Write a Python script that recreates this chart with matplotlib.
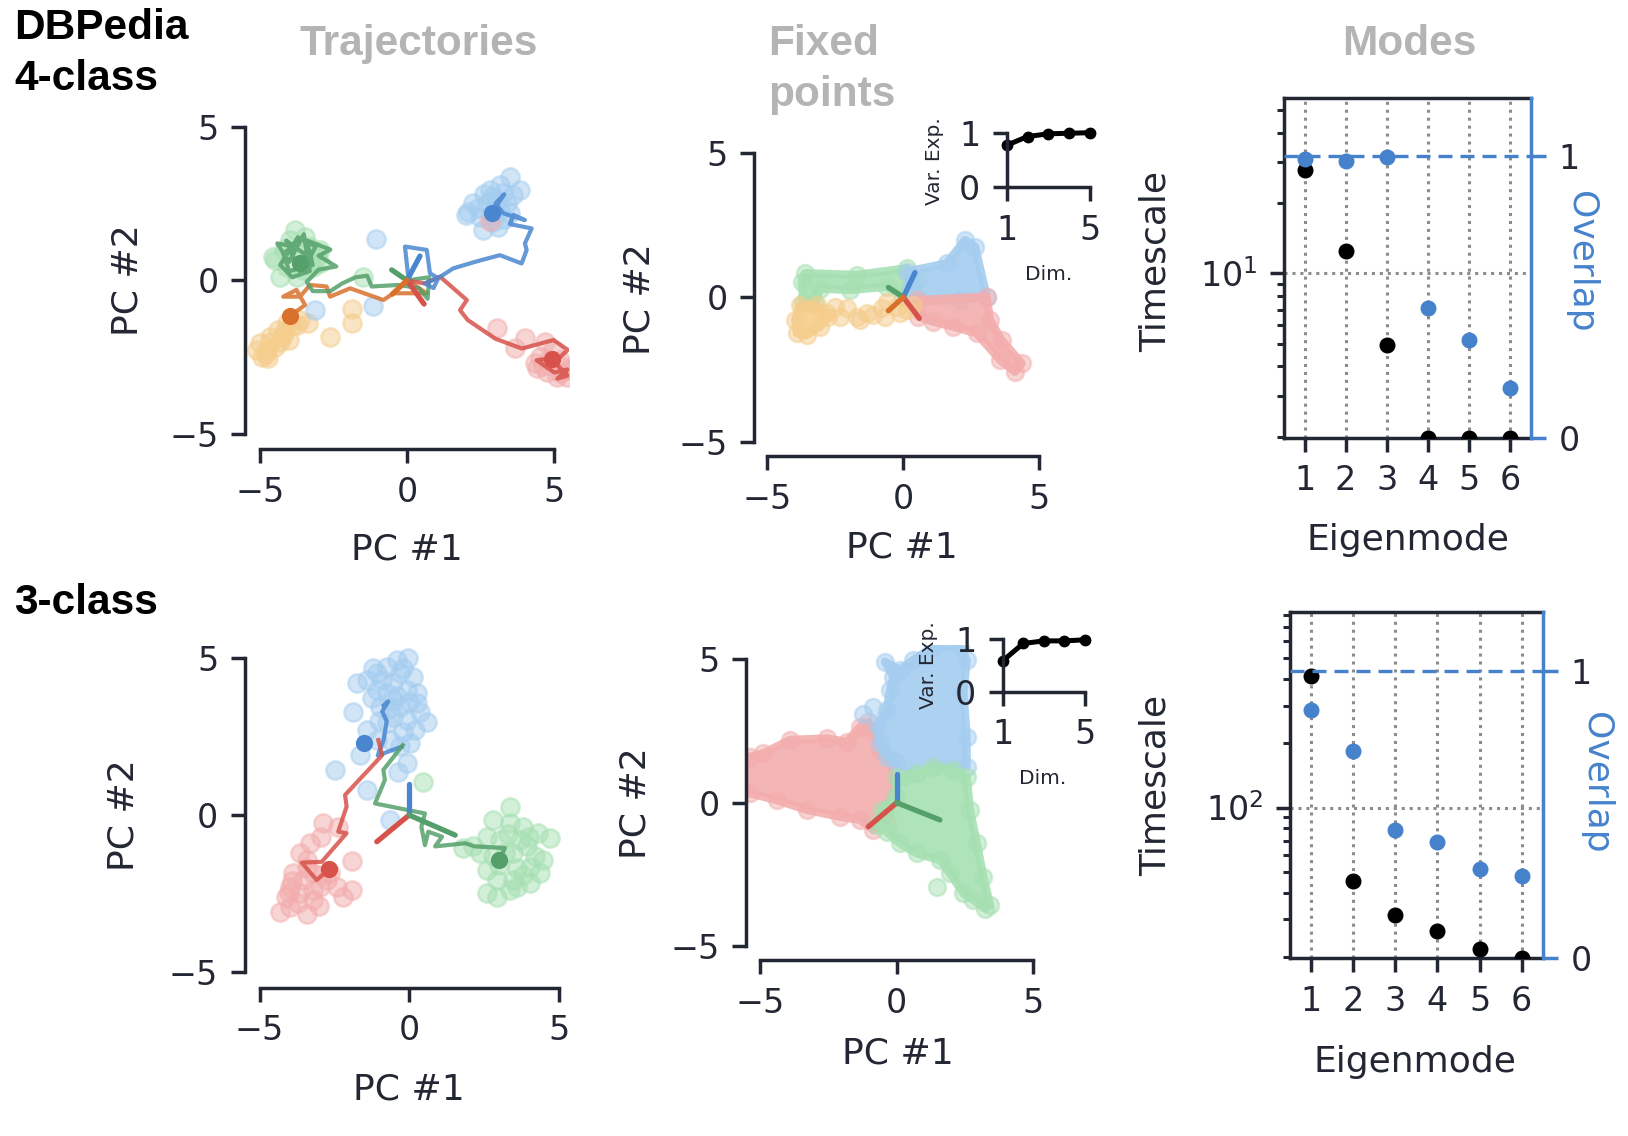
import numpy as np
import matplotlib.pyplot as plt
from matplotlib.patches import Polygon
from matplotlib.ticker import NullFormatter

# ---------------- data ----------------
# readout directions (tips, drawn from the origin)
read4 = {'blue': (0.44, 0.79), 'green': (-0.52, 0.34), 'red': (0.58, -0.77), 'orange': (-0.50, -0.45)}
read4_fp = {'blue': (0.43, 0.85), 'green': (-0.55, 0.34), 'red': (0.59, -0.73), 'orange': (-0.55, -0.47)}
read3 = {'blue': (0.0, 1.0), 'red': (-1.08, -0.85), 'green': (1.54, -0.64)}
read3_fp = {'blue': (0.0, 1.0), 'red': (-1.04, -0.84), 'green': (1.58, -0.60)}

# 4-class trajectories
traj4_blue = [(0.05, 0.05), (-0.07, 1.10), (0.67, 0.99), (0.78, 0.23), (1.06, 0.07), (0.9, -0.25),
              (0.6, -0.1), (1.1, 0.1), (1.57, 0.39), (2.3, 0.6), (3.15, 0.82), (3.89, 0.55),
              (4.06, 0.99), (4.0, 1.2), (4.23, 1.69), (3.49, 1.83), (3.61, 2.13), (4.0, 1.96),
              (3.27, 2.18), (3.0, 2.5), (3.3, 2.8), (2.88, 2.2)]
traj4_green = [(0.0, 0.0), (0.75, 0.1), (0.7, -0.6), (0.4, -0.25), (-0.3, -0.15), (-1.2, -0.2),
               (-1.35, 0.15), (-1.75, 0.1), (-2.2, -0.1), (-2.6, -0.35), (-3.2, -0.35), (-3.4, -0.05),
               (-3.0, 0.35), (-2.4, 0.45), (-3.0, 0.8), (-2.6, 1.0), (-3.4, 1.3), (-3.2, 0.5),
               (-4.0, 0.3), (-4.2, 0.9), (-3.8, 1.1), (-4.4, 1.2), (-4.0, 0.6), (-3.5, 1.5),
               (-3.3, 0.3), (-3.9, 0.1), (-4.3, 0.5), (-3.7, 1.4), (-3.1, 1.1), (-3.6, 0.2),
               (-4.1, 1.3), (-3.4, 0.8), (-3.63, 0.58)]
traj4_orange = [(0.0, 0.0), (0.67, -0.42), (-0.46, -0.42), (-0.8, -0.64), (-1.93, -0.26), (-2.61, -0.53),
                (-2.73, -0.2), (-3.29, -0.15), (-3.63, -0.53), (-4.2, -0.53), (-3.75, -0.31),
                (-3.46, -0.8), (-3.97, -1.16)]
traj4_red = [(0.0, 0.0), (0.6, -0.1), (1.12, 0.12), (2.03, -0.64), (1.8, -0.97), (2.06, -1.29),
             (3.0, -1.9), (3.9, -2.22), (4.97, -1.94), (5.45, -2.26), (5.2, -2.5), (4.4, -2.6),
             (5.0, -3.0), (5.45, -2.9), (5.1, -3.2), (5.45, -3.1), (4.91, -2.57)]
fp4 = {'blue': (2.88, 2.2), 'green': (-3.63, 0.58), 'orange': (-3.97, -1.16), 'red': (4.91, -2.57)}

cloud4_blue = [(3.49, 3.37), (3.15, 3.1), (3.83, 2.94), (2.81, 2.94), (2.25, 2.51), (2.48, 2.07),
               (2.7, 2.51), (3.04, 2.62), (3.38, 2.51), (3.27, 2.83), (2.59, 1.64), (3.1, 1.75),
               (2.93, 1.91), (3.49, 2.18), (3.61, 2.78), (2.42, 2.34), (2.08, 2.23), (2.81, 2.12),
               (3.15, 2.29), (3.0, 2.4), (2.6, 2.8), (3.3, 2.0), (2.9, 2.7),
               (2.0, 2.13), (-1.05, 1.34), (-3.12, -0.96), (-1.14, -0.84)]
cloud4_green = [(-3.8, 1.64), (-3.46, 1.42), (-4.53, 0.77), (-4.19, 0.99), (-3.74, 0.99), (-3.29, 1.1),
                (-3.06, 0.77), (-2.95, 0.99), (-4.08, 0.45), (-3.52, 0.34), (-3.18, 0.45),
                (-4.31, 0.12), (-3.74, 0.12), (-2.95, 0.55), (-4.47, 0.66), (-3.97, 1.31),
                (-3.6, 0.7), (-3.3, 0.6), (-1.48, 0.12)]
cloud4_orange = [(-5.1, -2.27), (-4.93, -2.49), (-4.7, -2.54), (-4.64, -1.83), (-4.36, -1.62),
                 (-4.08, -1.4), (-3.74, -1.45), (-4.31, -2.0), (-4.47, -2.16), (-4.02, -1.94),
                 (-3.63, -1.29), (-3.35, -1.4), (-4.76, -2.27), (-4.98, -2.05), (-4.19, -1.67),
                 (-4.6, -2.0), (-4.2, -1.8), (-4.8, -2.4), (-3.9, -1.5),
                 (-2.61, -1.83), (-1.88, -1.4), (-1.88, -0.94)]
cloud4_red = [(3.04, -1.56), (3.66, -2.21), (4.0, -1.89), (4.68, -2.0), (4.34, -2.7), (4.51, -2.48),
              (4.96, -2.27), (5.3, -2.81), (5.42, -3.14), (5.08, -3.14), (4.74, -2.97), (5.19, -2.6),
              (4.4, -2.86), (5.47, -2.92), (4.8, -2.6), (5.2, -3.0), (4.6, -2.8), (2.8, 1.93)]

# 3-class trajectories
traj3_blue = [(-0.25, 2.18), (-1.05, 1.9), (-0.85, 2.4), (-0.75, 3.0), (-0.9, 3.3), (-0.7, 3.62),
              (-0.85, 3.5)]
traj3_red = [(-1.03, 2.39), (-0.9, 1.91), (-2.14, 0.64), (-2.09, 0.27), (-2.37, -0.53), (-2.09, -0.58),
             (-2.92, -1.49), (-3.59, -1.52), (-3.09, -2.07), (-2.68, -1.73)]
traj3_green = [(-0.21, 2.23), (-0.86, 1.44), (-0.81, 1.12), (-1.14, 0.37), (0.53, 0.05), (0.41, -0.37),
               (0.53, -0.96), (0.64, -0.53), (1.1, -0.69), (0.87, -1.0), (1.87, -0.9), (2.2, -1.0),
               (3.2, -1.05), (3.02, -1.43)]
fp3 = {'blue': (-1.51, 2.29), 'red': (-2.68, -1.73), 'green': (3.02, -1.43)}

cloud3_blue = [(-0.03, 5.0), (-0.42, 4.95), (-0.75, 4.73), (-1.08, 4.52), (-1.42, 4.31), (-1.75, 4.2),
               (-0.31, 4.52), (0.14, 4.41), (-0.53, 4.2), (-1.08, 3.99), (-0.75, 3.88), (-0.08, 3.99),
               (0.25, 3.56), (-0.31, 3.46), (-0.97, 3.46), (-1.25, 3.72), (-0.53, 3.14), (-0.08, 3.03),
               (0.36, 3.3), (0.59, 2.98), (-1.86, 3.3), (-1.42, 2.72), (-0.75, 2.93), (-0.2, 2.66),
               (0.03, 2.29), (-0.64, 2.39), (-0.2, 4.7), (-0.9, 4.3), (-0.4, 3.8), (-0.6, 3.4),
               (0.0, 3.6), (-1.0, 3.0), (0.2, 2.7), (-0.3, 2.2), (-1.2, 4.7),
               (-1.64, 1.92), (-2.48, 1.44), (-1.42, 0.8), (-0.64, -0.16),
               (-0.08, 1.65), (-0.36, 1.38), (-1.08, 2.39), (0.25, 3.88), (-0.53, 3.67)]
cloud3_red = [(-4.32, -3.08), (-3.99, -2.92), (-3.43, -3.14), (-4.1, -2.6), (-3.65, -2.5), (-3.21, -2.71),
              (-2.98, -2.29), (-3.54, -2.07), (-3.87, -1.86), (-3.21, -1.86), (-2.76, -2.07),
              (-2.42, -2.29), (-1.92, -2.39), (-2.2, -2.6), (-3.65, -1.22), (-3.32, -0.9), (-2.87, -0.26),
              (-2.37, -0.37), (-1.92, -1.46), (-2.93, -0.69), (-3.99, -2.29), (-3.43, -1.44), (-2.65, -1.86),
              (-3.7, -2.8), (-3.2, -2.4), (-3.9, -2.1), (-3.4, -1.7), (-2.9, -1.9), (-4.0, -2.5), (-3.0, -2.9)]
cloud3_green = [(2.6, -2.5), (2.93, -2.6), (3.37, -2.39), (2.6, -1.75), (2.93, -2.07), (3.48, -2.07),
                (4.04, -2.18), (4.37, -1.86), (4.48, -1.43), (4.71, -0.74), (4.32, -0.58), (3.82, -0.37),
                (3.37, -0.26), (2.82, -0.16), (3.37, 0.27), (3.93, -1.0), (3.48, -1.22), (3.04, -0.8),
                (2.37, -1.22), (2.15, -1.0), (4.04, -1.65), (3.0, -1.6), (3.6, -1.7), (3.2, -1.2),
                (4.2, -1.3), (3.8, -1.9), (3.3, -0.6), (4.0, -0.7), (2.8, -1.3), (3.6, -2.3),
                (0.47, 1.06), (1.81, -1.06), (2.6, -0.69), (3.71, -0.8)]

# 4-class fixed point regions (outlines of the dense point sets)
fps4_green = [(-3.62, 0.83), (-1.72, 0.77), (0.12, 1.0), (0.49, 0.6), (0.49, 0.02), (0.0, 0.02),
              (-0.61, 0.36), (-1.96, 0.25), (-3.07, 0.3), (-3.25, -0.21), (-3.68, -0.21), (-3.74, 0.54)]
fps4_blue = [(0.12, 0.88), (1.6, 1.17), (2.27, 1.98), (2.64, 1.75), (3.07, 0.02), (2.09, -0.1),
             (0.49, -0.13), (0.3, 0.36)]
fps4_red = [(0.49, -0.1), (3.07, 0.02), (3.19, -0.79), (3.62, -1.48), (4.36, -2.29), (4.11, -2.58),
            (3.56, -2.17), (2.7, -1.25), (1.84, -1.02), (1.1, -0.85), (0.55, -0.67)]
fps4_orange = [(-3.8, -0.27), (-3.19, -0.27), (-2.76, -0.67), (-3.07, -1.02), (-3.56, -1.31),
               (-3.92, -1.25), (-3.98, -0.79)]
fps4_orange_pts = [(-2.51, -0.33), (-2.09, -0.39), (-2.82, -0.56), (-1.72, -0.67), (-1.35, -0.56),
                   (-1.1, -0.62), (-0.79, -0.39), (-0.61, -0.16), (-0.24, -0.33), (0.12, -0.44),
                   (0.37, -0.27), (-1.6, -0.79), (-0.67, -0.67), (-0.12, -0.56), (-2.33, -0.67)]

# 3-class fixed point regions
fps3_red = [(-6.0, 1.6), (-5.37, 1.6), (-4.88, 1.72), (-3.9, 2.19), (-2.56, 2.24), (-1.83, 2.12),
            (-1.34, 2.65), (-1.04, 2.82), (-0.92, 2.53), (-0.61, 1.84), (-0.18, 1.49), (-0.06, 0.21),
            (-0.37, -0.72), (-0.85, -0.95), (-1.34, -0.6), (-2.07, -0.49), (-3.29, -0.25),
            (-4.39, 0.09), (-5.37, 0.33), (-6.0, 0.33)]
fps3_blue = [(-0.43, 4.92), (0.12, 4.63), (0.61, 4.98), (1.34, 5.44), (2.32, 5.44), (2.56, 4.98),
             (2.44, 3.82), (2.56, 2.3), (2.56, 1.26), (2.07, 1.14), (1.34, 1.26), (0.73, 1.03),
             (0.24, 0.91), (0.0, 1.37), (-0.37, 1.61), (-0.61, 2.07), (-0.73, 2.7), (-0.37, 3.22),
             (-0.24, 3.93), (-0.12, 4.39)]
fps3_blue_pts = [(-0.85, 3.33), (-1.22, 3.1)]
fps3_green = [(0.0, 0.91), (0.73, 1.03), (1.34, 1.26), (2.07, 1.14), (2.56, 0.91), (2.68, -0.25),
              (2.93, -1.42), (3.17, -2.58), (3.41, -3.57), (3.23, -3.69), (2.8, -3.39), (2.44, -3.16),
              (1.95, -2.46), (1.58, -2.0), (0.73, -1.77), (0.12, -1.42), (-0.37, -1.02), (-0.73, -0.79),
              (-0.55, -0.25), (-0.06, 0.21)]
fps3_green_pts = [(1.46, -2.93)]

# variance explained insets
var_dims = [1, 2, 3, 4, 5]
var4 = [0.77, 0.93, 0.98, 0.99, 1.0]
var3 = [0.59, 0.92, 0.97, 0.97, 0.99]

# modes
modes = [1, 2, 3, 4, 5, 6]
tau4 = [27.7, 12.5, 4.93, 1.98, 1.98, 1.98]
ovl4 = [0.989, 0.983, 0.998, 0.462, 0.346, 0.175]
tau3 = [413, 45.1, 31.3, 26.5, 21.7, 19.7]
ovl3 = [0.862, 0.719, 0.446, 0.406, 0.310, 0.285]

# ---------------- style ----------------
DARK = '#232733'
GRAY = '#b4b4b4'
OVL = '#4682cc'
dark = {'blue': '#4a86cf', 'green': '#55a06a', 'red': '#d6524a', 'orange': '#d9712c'}
light = {'blue': '#a4cdf0', 'green': '#a6e0b2', 'red': '#f3adad', 'orange': '#f5cd8c'}

plt.rcParams.update({
    'font.family': 'DejaVu Sans',
    'axes.linewidth': 2.5, 'axes.edgecolor': DARK,
    'xtick.major.width': 2.5, 'ytick.major.width': 2.5,
    'xtick.minor.width': 2.2, 'ytick.minor.width': 2.2,
    'xtick.major.size': 10, 'ytick.major.size': 10,
    'xtick.minor.size': 5, 'ytick.minor.size': 5,
    'xtick.major.pad': 9, 'ytick.major.pad': 9,
    'xtick.color': DARK, 'ytick.color': DARK,
    'xtick.labelsize': 24, 'ytick.labelsize': 24,
    'text.color': DARK,
})

W, H = 1628, 1136
fig = plt.figure(figsize=(W / 100, H / 100), dpi=100)


def add_ax(l, t, r, b):
    return fig.add_axes([l / W, 1 - b / H, (r - l) / W, (b - t) / H])


def ftext(x, y, s, **kw):
    fig.text(x / W, 1 - y / H, s, **kw)


def xy(pts):
    a = np.array(pts, dtype=float)
    return a[:, 0], a[:, 1]


def pc_axes(l, t, r, b):
    ax = add_ax(l, t, r, b)
    ax.set_xlim(-5.5, 5.5)
    ax.set_ylim(-5.5, 5.5)
    ax.spines['top'].set_visible(False)
    ax.spines['right'].set_visible(False)
    ax.spines['left'].set_bounds(-5, 5)
    ax.spines['bottom'].set_bounds(-5, 5)
    ax.set_xticks([-5, 0, 5])
    ax.set_yticks([-5, 0, 5])
    return ax


def cloud(ax, pts, col, s=175):
    x, y = xy(pts)
    ax.scatter(x, y, s=s, c=light[col], alpha=0.5, linewidths=1.8,
               edgecolors=light[col], zorder=1)


def path(ax, pts, col):
    x, y = xy(pts)
    ax.plot(x, y, color=dark[col], lw=3.0, alpha=0.85, zorder=3)


def readouts(ax, tips):
    for col, (tx, ty) in tips.items():
        ax.plot([0, tx], [0, ty], color=dark[col], lw=3.8, solid_capstyle='round', zorder=4)


def region(ax, pts, col):
    ax.add_patch(Polygon(pts, closed=True, fc=light[col], ec=light[col], lw=6,
                         joinstyle='round', alpha=0.9, zorder=1))
    x, y = xy(pts)
    ax.scatter(x, y, s=150, c=light[col], alpha=0.5, linewidths=1.8,
               edgecolors=light[col], zorder=1)


def inset(l, t, r, b, vals, lab_x, lab_y, dim_x, dim_y):
    ax = add_ax(l, t, r, b)
    ax.set_xlim(1, 5)
    ax.set_ylim(0, 1)
    ax.spines['top'].set_visible(False)
    ax.spines['right'].set_visible(False)
    ax.set_xticks([1, 5])
    ax.set_yticks([0, 1])
    ax.plot(var_dims, vals, 'o-', color='k', lw=3.6, ms=7.5, clip_on=False)
    ax.patch.set_alpha(0)
    ftext(lab_x, lab_y, 'Var. Exp.', fontsize=14.5, rotation=90, ha='center', va='center')
    ftext(dim_x, dim_y, 'Dim.', fontsize=14.5, ha='center', va='baseline')


def modes_axes(l, t, r, b, tau, ovl, ylim):
    ax = add_ax(l, t, r, b)
    ax.set_yscale('log')
    ax.set_xlim(0.5, 6.5)
    ax.set_ylim(*ylim)
    ax.set_xticks(modes)
    ax.yaxis.set_minor_formatter(NullFormatter())
    ax.grid(True, which='major', ls=(0, (1, 1.6)), color='#8c8c8c', lw=2.2)
    ax.set_axisbelow(True)
    ax.spines['right'].set_visible(False)
    ax.plot(modes, tau, 'o', color='k', ms=10.5, zorder=3)
    ax2 = ax.twinx()
    ax2.set_ylim(0, 1.205)
    ax2.set_yticks([0, 1])
    for s in ['left', 'top', 'bottom']:
        ax2.spines[s].set_visible(False)
    ax2.spines['right'].set_color(OVL)
    ax2.tick_params(axis='y', color=OVL, labelcolor=DARK, length=11, pad=9)
    ax2.axhline(1, color=OVL, ls='--', lw=2.4, dashes=(4.2, 2.4))
    ax2.plot(modes, ovl, 'o', color=OVL, ms=10.5, zorder=3)
    return ax, ax2


title_kw = dict(family='Liberation Sans', weight='bold', fontsize=30.5)
lab_kw = dict(fontsize=26)

# ---------------- row labels and column titles ----------------
ftext(14, 39, 'DBPedia', color='k', ha='left', va='baseline', **title_kw)
ftext(14, 90, '4-class', color='k', ha='left', va='baseline', **title_kw)
ftext(14, 614, '3-class', color='k', ha='left', va='baseline', **title_kw)
ftext(419, 55, 'Trajectories', color=GRAY, ha='center', va='baseline', **title_kw)
ftext(768, 55, 'Fixed', color=GRAY, ha='left', va='baseline', **title_kw)
ftext(768, 106, 'points', color=GRAY, ha='left', va='baseline', **title_kw)
ftext(1409, 55, 'Modes', color=GRAY, ha='center', va='baseline', **title_kw)

# ---------------- 4-class trajectories ----------------
ax = pc_axes(244.9, 111.3, 569.1, 449.4)
for pts, col in [(cloud4_orange, 'orange'), (cloud4_green, 'green'), (cloud4_blue, 'blue'), (cloud4_red, 'red')]:
    cloud(ax, pts, col)
for pts, col in [(traj4_orange, 'orange'), (traj4_green, 'green'), (traj4_red, 'red'), (traj4_blue, 'blue')]:
    path(ax, pts, col)
readouts(ax, read4)
for col, (fx, fy) in fp4.items():
    ax.scatter([fx], [fy], s=130, c=dark[col], zorder=5)
ftext(407, 560, 'PC #1', ha='center', va='baseline', **lab_kw)
ftext(127, 280, 'PC #2', ha='center', va='center', rotation=90, **lab_kw)

# ---------------- 3-class trajectories ----------------
ax = pc_axes(244.6, 642.6, 573.6, 987.5)
for pts, col in [(cloud3_red, 'red'), (cloud3_green, 'green'), (cloud3_blue, 'blue')]:
    cloud(ax, pts, col)
for pts, col in [(traj3_blue, 'blue'), (traj3_red, 'red'), (traj3_green, 'green')]:
    path(ax, pts, col)
readouts(ax, read3)
for col, (fx, fy) in fp3.items():
    ax.scatter([fx], [fy], s=130, c=dark[col], zorder=5)
ftext(409, 1100, 'PC #1', ha='center', va='baseline', **lab_kw)
ftext(124, 815, 'PC #2', ha='center', va='center', rotation=90, **lab_kw)

# ---------------- 4-class fixed points ----------------
ax = pc_axes(753.9, 138.2, 1052.7, 456.2)
region(ax, fps4_green, 'green')
region(ax, fps4_blue, 'blue')
region(ax, fps4_red, 'red')
region(ax, fps4_orange, 'orange')
cloud(ax, fps4_orange_pts, 'orange', s=150)
readouts(ax, read4_fp)
ftext(902, 558, 'PC #1', ha='center', va='baseline', **lab_kw)
ftext(640, 299, 'PC #2', ha='center', va='center', rotation=90, **lab_kw)
inset(1006.7, 132.7, 1090, 187.3, var4, 934, 161, 1049, 280)

# ---------------- 3-class fixed points ----------------
ax = pc_axes(746.4, 645.0, 1047.0, 960.4)
region(ax, fps3_red, 'red')
region(ax, fps3_blue, 'blue')
region(ax, fps3_green, 'green')
cloud(ax, fps3_blue_pts, 'blue', s=150)
cloud(ax, fps3_green_pts, 'green', s=150)
readouts(ax, read3_fp)
ftext(898, 1064, 'PC #1', ha='center', va='baseline', **lab_kw)
ftext(635, 803, 'PC #2', ha='center', va='center', rotation=90, **lab_kw)
inset(1002.7, 639.3, 1085, 691.7, var3, 929, 665, 1043, 784)

# ---------------- modes ----------------
modes_axes(1284, 98.3, 1530.7, 437.7, tau4, ovl4, (1.98, 56.2))
ftext(1408, 550, 'Eigenmode', ha='center', va='baseline', **lab_kw)
ftext(1156, 262, 'Timescale', ha='center', va='center', rotation=90, **lab_kw)
ftext(1581, 262, 'Overlap', ha='center', va='center', rotation=270, color=OVL, **lab_kw)

modes_axes(1290, 611.7, 1542.7, 958.3, tau3, ovl3, (19.7, 826))
ftext(1415, 1072, 'Eigenmode', ha='center', va='baseline', **lab_kw)
ftext(1156, 786, 'Timescale', ha='center', va='center', rotation=90, **lab_kw)
ftext(1596, 783, 'Overlap', ha='center', va='center', rotation=270, color=OVL, **lab_kw)

fig.savefig('out.png', dpi=100)
